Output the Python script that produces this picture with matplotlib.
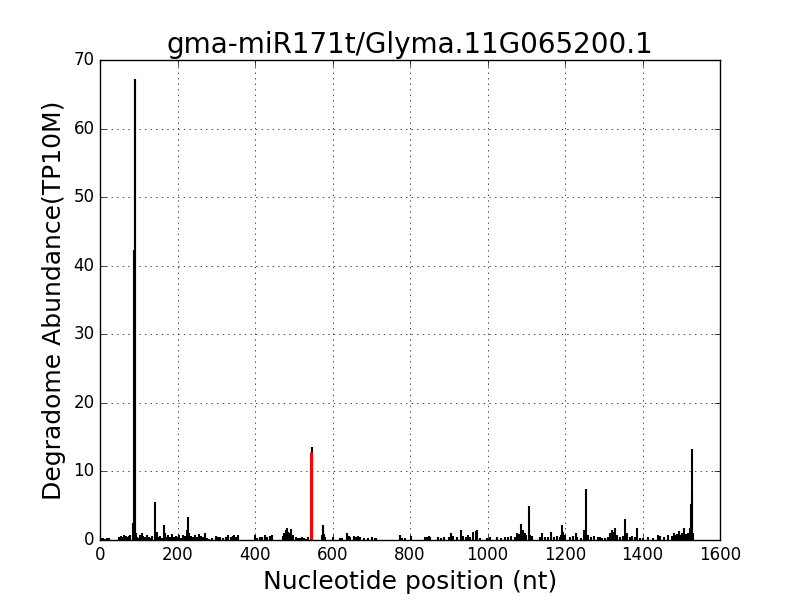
import matplotlib

matplotlib.use("Agg")
import matplotlib.pyplot as plt

plt.style.use("classic")

TITLE = "gma-miR171t/Glyma.11G065200.1"

# degradome tags: (nucleotide position, abundance in TP10M)
positions = [
    3, 7, 12, 18, 24,
    48, 53, 57, 62, 66, 70, 74, 78, 84, 88, 90, 91, 93,
    96, 100, 104, 108, 112, 117, 121, 126, 130, 135, 142, 146,
    150, 155, 160, 165, 168, 172, 176, 180, 185, 190, 195, 200,
    205, 210, 215, 220, 224, 227, 230, 235, 240, 245, 250, 255,
    260, 265, 270, 276, 282, 288, 300, 305, 310, 318, 325, 330,
    338, 342, 347, 352, 357, 400, 405, 412, 418, 425, 432, 438,
    445, 472, 476, 480, 483, 486, 490, 494, 498, 505, 510, 516,
    520, 526, 532, 537, 546, 574, 576, 579, 581, 601, 619, 625,
    637, 642, 645, 655, 660, 667, 672, 680, 692, 702, 709, 712,
    774, 780, 787, 802, 839, 843, 848, 852, 872, 880, 888, 901,
    905, 912, 920, 932, 938, 945, 950, 955, 963, 970, 972, 980,
    998, 1006, 1024, 1035, 1045, 1052, 1060, 1070, 1075, 1081, 1086,
    1091, 1096, 1100, 1106, 1110, 1115, 1135, 1140, 1148, 1156, 1164,
    1172, 1180, 1186, 1190, 1193, 1195, 1200, 1213, 1220, 1228, 1230,
    1240, 1250, 1255, 1260, 1268, 1276, 1284, 1290, 1296, 1303, 1310,
    1316, 1320, 1325, 1329, 1335, 1342, 1350, 1356, 1360, 1367, 1373,
    1380, 1387, 1393, 1402, 1415, 1428, 1440, 1446, 1455, 1467, 1475,
    1480, 1486, 1490, 1495, 1500, 1503, 1508, 1513, 1517, 1522, 1525,
    1527, 1528, 1530,
]
abundance = [
    0.3, 0.3, 0.2, 0.3, 0.3,
    0.5, 0.6, 0.5, 0.7, 0.6, 0.5, 0.6, 0.7, 2.5, 42.3, 67.3, 67.3, 1.0,
    0.5, 0.3, 0.8, 1.0, 0.6, 0.4, 0.8, 0.5, 0.3, 0.6, 5.6, 1.2,
    0.4, 0.6, 0.3, 2.2, 1.0, 0.4, 0.7, 0.5, 0.9, 0.5, 0.6, 0.4,
    0.7, 0.3, 0.8, 0.6, 1.5, 3.4, 1.0, 0.6, 0.4, 0.8, 0.5, 0.9,
    0.6, 0.4, 1.0, 0.3, 0.2, 0.3, 0.6, 0.4, 0.5, 0.3, 0.5, 0.7,
    0.4, 0.6, 0.8, 0.5, 0.7, 0.8, 0.3, 0.5, 0.4, 0.7, 0.4, 0.6,
    0.8, 0.6, 1.0, 1.5, 1.7, 1.2, 1.0, 1.6, 0.8, 0.5, 0.3, 0.3,
    0.4, 0.3, 0.2, 0.4, 13.6, 0.8, 2.2, 0.9, 0.4, 0.5, 0.3, 0.3,
    1.0, 0.6, 0.4, 0.6, 0.5, 0.6, 0.4, 0.3, 0.3, 0.4, 0.3, 0.3,
    0.8, 0.3, 0.3, 0.6, 0.5, 0.4, 0.6, 0.5, 0.4, 0.3, 0.4, 0.4,
    1.0, 0.6, 0.5, 1.4, 0.6, 0.4, 0.8, 0.5, 1.2, 1.3, 1.4, 0.3,
    0.3, 0.5, 0.5, 0.3, 0.5, 0.4, 0.6, 0.4, 1.0, 0.9, 2.4,
    1.5, 1.0, 0.8, 4.9, 0.8, 0.6, 0.5, 1.0, 0.5, 0.4, 1.2,
    0.5, 0.6, 0.4, 0.8, 2.2, 1.2, 0.8, 0.5, 0.6, 1.0, 0.5,
    0.3, 1.5, 7.5, 0.8, 0.5, 0.6, 0.4, 0.5, 0.3, 0.3, 0.5,
    1.0, 1.5, 1.2, 1.8, 0.8, 0.5, 0.6, 3.0, 1.0, 0.5, 0.6,
    0.5, 1.8, 0.3, 0.3, 0.5, 0.3, 0.8, 0.6, 0.5, 0.8, 0.6,
    1.0, 0.8, 0.9, 1.3, 0.8, 1.0, 1.7, 0.9, 1.0, 1.8, 5.2,
    13.3, 6.8, 1.0,
]

# predicted cleavage site
cleave_pos = [545]
cleave_abundance = [12.9]

fig, ax = plt.subplots(figsize=(8, 6), dpi=100)
ax.vlines(positions, 0, abundance, colors="black", linewidth=1.5)
ax.vlines(cleave_pos, 0, cleave_abundance, colors="red", linewidth=2.2)

ax.set_xlim(0, 1600)
ax.set_ylim(0, 70)
ax.set_title(TITLE, fontsize=20)
ax.set_xlabel("Nucleotide position (nt)", fontsize=18)
ax.set_ylabel("Degradome Abundance(TP10M)", fontsize=18)
ax.grid(True)

fig.savefig("out.png", dpi=100)
